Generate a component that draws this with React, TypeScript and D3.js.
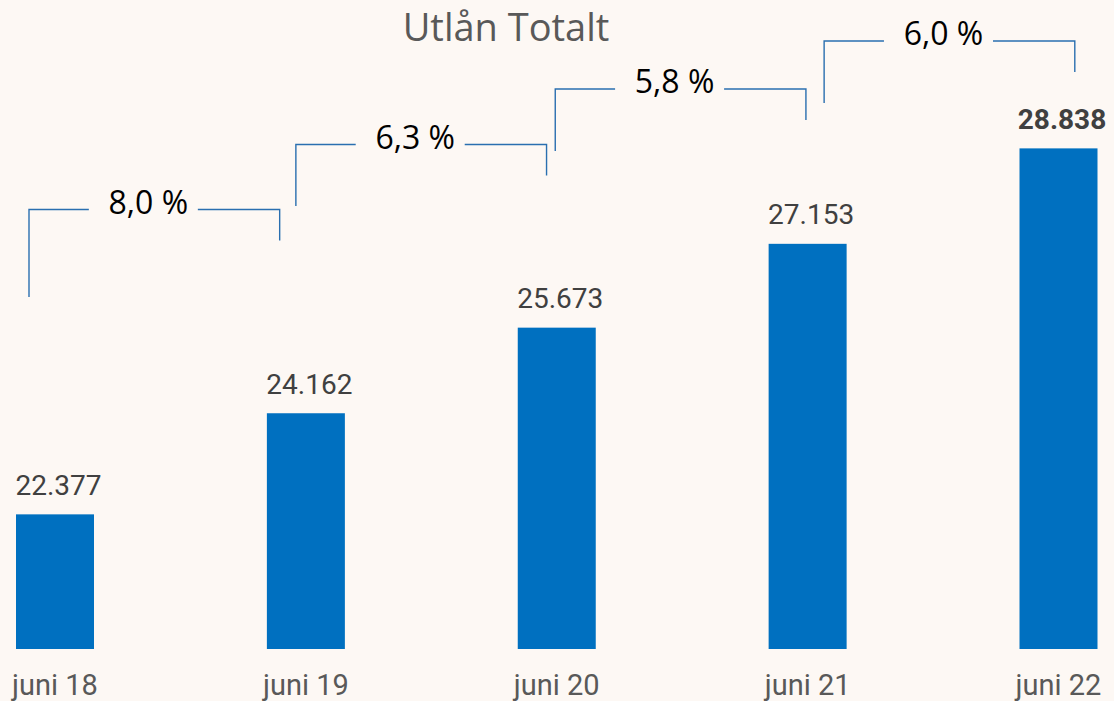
import React from "react";
import * as d3 from "d3";

const CATEGORIES = ["juni 18", "juni 19", "juni 20", "juni 21", "juni 22"];
const VALUES = [22377, 24162, 25673, 27153, 28838];
const VALUE_LABELS = ["22.377", "24.162", "25.673", "27.153", "28.838"];
const GROWTH_LABELS = ["8,0 %", "6,3 %", "5,8 %", "6,0 %"];
const TITLE = "Utlån Totalt";

// layout for the hand-placed growth brackets (pixels)
const BRACKET_LEFT_OFFSET = [-26, -10, -1.5, 16.5];
const BRACKET_TOP = [209.5, 144.5, 89, 41];
const BRACKET_LEFT_BOTTOM = [297, 206, 151, 103];
const BRACKET_RIGHT_DROP = 31;

const W = 1114;
const H = 701;

export default function App() {
  const x = d3.scalePoint<string>().domain(CATEGORIES).range([55, 1058.5]);
  const step = x.step();
  const y = d3.scaleLinear().domain([20000, 29000]).range([649, 139.2]);
  const barW = 78;
  const bracketColor = "#2A6FB0";

  return (
    <svg
      width={W}
      height={H}
      style={{ position: "absolute", left: 0, top: 0, background: "#FDF8F4" }}
    >
      <rect x={0} y={0} width={W} height={H} fill="#FDF8F4" />
      <text
        x={506}
        y={40.7}
        textAnchor="middle"
        fontFamily="'Open Sans', sans-serif"
        fontSize={38}
        fill="#595959"
      >
        {TITLE}
      </text>

      {CATEGORIES.map((c, i) => {
        const cx = x(c)!;
        const top = y(VALUES[i]);
        return (
          <g key={c}>
            <rect x={cx - barW / 2} y={top} width={barW} height={y(20000) - top} fill="#0070C0" />
            <text
              x={cx + 3.5}
              y={top - 19.5}
              textAnchor="middle"
              fontFamily="Roboto, sans-serif"
              fontSize={28}
              fontWeight={i === CATEGORIES.length - 1 ? 700 : 400}
              fill="#404040"
            >
              {VALUE_LABELS[i]}
            </text>
            <text
              x={cx}
              y={695}
              textAnchor="middle"
              fontFamily="Roboto, sans-serif"
              fontSize={29}
              fill="#595959"
            >
              {c}
            </text>
          </g>
        );
      })}

      {GROWTH_LABELS.map((g, i) => {
        const lx = x(CATEGORIES[i])! + BRACKET_LEFT_OFFSET[i];
        const rx = lx + step - 0.2;
        const ty = BRACKET_TOP[i];
        const c = (lx + rx) / 2;
        return (
          <g key={g}>
            <path
              d={`M${lx},${BRACKET_LEFT_BOTTOM[i]}V${ty}H${c - 65.5}`}
              fill="none"
              stroke={bracketColor}
              strokeWidth={1.4}
            />
            <path
              d={`M${c + 43.5},${ty}H${rx}V${ty + BRACKET_RIGHT_DROP}`}
              fill="none"
              stroke={bracketColor}
              strokeWidth={1.4}
            />
            <text
              x={c - 6}
              y={ty + 4}
              textAnchor="middle"
              fontFamily="'Open Sans', sans-serif"
              fontSize={32}
              fill="#000000"
            >
              {g}
            </text>
          </g>
        );
      })}
    </svg>
  );
}
